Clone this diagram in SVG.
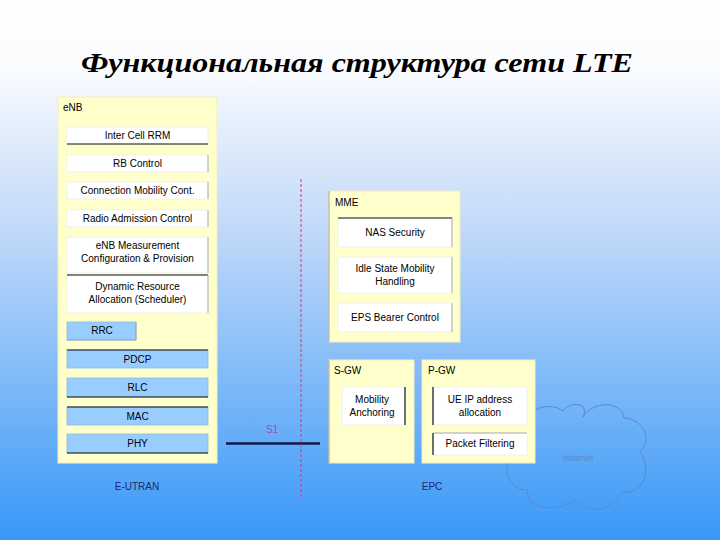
<svg xmlns="http://www.w3.org/2000/svg" width="720" height="540" viewBox="0 0 720 540">
<defs>
<linearGradient id="bg" x1="0" y1="0" x2="0" y2="1">
<stop offset="0" stop-color="#ffffff"/>
<stop offset="0.12" stop-color="#fbfcfe"/>
<stop offset="0.45" stop-color="#bcd6f8"/>
<stop offset="1" stop-color="#3898f8"/>
</linearGradient>
<style>
.t{font-family:"Liberation Sans",Arial,sans-serif;font-size:10px;fill:#000}
.c{text-anchor:middle}
.ybox{fill:#ffffcc;stroke:#f4eec0;stroke-width:1}
.wbox{fill:#ffffff;stroke:#eeeeee;stroke-width:0.8}
.bbox{fill:#99ccff;stroke:#8ab8e8;stroke-width:0.8}
.dk{stroke:#111;stroke-width:1.2;fill:none}
.gr{stroke:#999;stroke-width:0.8;fill:none}
.lbl{font-family:"Liberation Sans",Arial,sans-serif;font-size:10px;fill:#1a2a6a;text-anchor:middle}
</style>
</defs>
<rect x="0" y="0" width="720" height="540" fill="url(#bg)"/>
<text x="357" y="72" text-anchor="middle" font-family="'Liberation Serif','Times New Roman',serif" font-size="28" font-weight="bold" font-style="italic" fill="#000" textLength="552" lengthAdjust="spacingAndGlyphs">Функциональная структура сети LTE</text>

<g id="internet">
<path d="M528,432 C520,410 548,400 563,411 C570,401 590,402 583,417 C592,401 622,400 624,418 C645,420 652,440 640,452 C652,468 645,495 622,492 C614,512 585,514 574,500 C556,514 524,508 528,490 C506,490 500,464 516,456 C502,446 510,428 528,432 Z" fill="none" stroke="#5a8ad0" stroke-width="1"/>
<text x="578" y="461" font-family="'Liberation Sans',Arial,sans-serif" font-size="9" fill="#5a88c8" text-anchor="middle">Internet</text>
</g>

<g id="enb">
<rect class="ybox" x="58" y="97" width="159" height="366"/>
<text class="t" x="63" y="111">eNB</text>
<g id="intercellrrm"><rect class="wbox" x="67" y="127" width="141" height="17"/><line class="dk" x1="67" y1="144" x2="208" y2="144"/><text class="t c" x="137.5" y="139">Inter Cell RRM</text></g>
<g id="rbcontrol"><rect class="wbox" x="67" y="155" width="141" height="17"/><line class="gr" x1="208" y1="155" x2="208" y2="172"/><text class="t c" x="137.5" y="167">RB Control</text></g>
<g id="cmc"><rect class="wbox" x="67" y="182" width="141" height="17"/><line class="gr" x1="208" y1="182" x2="208" y2="199"/><text class="t c" x="137.5" y="194">Connection Mobility Cont.</text></g>
<g id="rac"><rect class="wbox" x="67" y="210" width="141" height="17"/><line class="gr" x1="208" y1="210" x2="208" y2="227"/><text class="t c" x="137.5" y="222">Radio Admission Control</text></g>
<g id="enbmeas"><rect class="wbox" x="67" y="237" width="141" height="36"/><line class="gr" x1="208" y1="237" x2="208" y2="273"/><text class="t c" x="137.5" y="249">eNB Measurement</text><text class="t c" x="137.5" y="262">Configuration &amp; Provision</text></g>
<g id="dra"><rect class="wbox" x="67" y="275" width="141" height="38"/><line class="dk" x1="67" y1="275" x2="208" y2="275"/><line class="gr" x1="208" y1="275" x2="208" y2="313"/><text class="t c" x="137.5" y="290">Dynamic Resource</text><text class="t c" x="137.5" y="303">Allocation (Scheduler)</text></g>
<g id="rrc"><rect class="bbox" x="67" y="322" width="69" height="18"/><line class="gr" x1="136" y1="322" x2="136" y2="340"/><line class="gr" x1="67" y1="340" x2="136" y2="340"/><text class="t c" x="102" y="334">RRC</text></g>
<g id="pdcp"><rect class="bbox" x="67" y="350" width="141" height="18"/><line class="dk" x1="67" y1="350" x2="208" y2="350"/><text class="t c" x="137.5" y="363">PDCP</text></g>
<g id="rlc"><rect class="bbox" x="67" y="378" width="141" height="19"/><line class="dk" x1="67" y1="397" x2="208" y2="397"/><text class="t c" x="137.5" y="391">RLC</text></g>
<g id="mac"><rect class="bbox" x="67" y="407" width="141" height="18"/><line class="dk" x1="67" y1="407" x2="208" y2="407"/><text class="t c" x="137.5" y="420">MAC</text></g>
<g id="phy"><rect class="bbox" x="67" y="434" width="141" height="19"/><line class="dk" x1="67" y1="453" x2="208" y2="453"/><text class="t c" x="137.5" y="447">PHY</text></g>
</g>

<g id="mme">
<rect class="ybox" x="329" y="191" width="131" height="151"/>
<line class="gr" x1="329" y1="191" x2="329" y2="342"/>
<text class="t" x="335" y="206">MME</text>
<g id="nas"><rect class="wbox" x="338" y="218" width="114" height="29"/><line class="dk" x1="338" y1="218" x2="452" y2="218"/><line class="gr" x1="452" y1="218" x2="452" y2="247"/><text class="t c" x="395" y="236">NAS Security</text></g>
<g id="idle"><rect class="wbox" x="338" y="257" width="114" height="36"/><line class="gr" x1="452" y1="257" x2="452" y2="293"/><text class="t c" x="395" y="272">Idle State Mobility</text><text class="t c" x="395" y="285">Handling</text></g>
<g id="eps"><rect class="wbox" x="338" y="303" width="114" height="29"/><line class="gr" x1="452" y1="303" x2="452" y2="332"/><text class="t c" x="395" y="321">EPS Bearer Control</text></g>
</g>

<g id="sgw">
<rect class="ybox" x="329" y="360" width="85" height="103"/>
<line class="gr" x1="329" y1="360" x2="329" y2="463"/>
<text class="t" x="334" y="374">S-GW</text>
<g id="anchor"><rect class="wbox" x="342" y="387" width="63" height="38" stroke="none"/><line class="dk" x1="405" y1="387" x2="405" y2="425"/><text class="t c" x="372" y="403">Mobility</text><text class="t c" x="372" y="416">Anchoring</text></g>
</g>

<g id="pgw">
<rect class="ybox" x="422" y="360" width="113" height="103"/>
<text class="t" x="428" y="374">P-GW</text>
<g id="ueip"><rect class="wbox" x="433" y="387" width="94" height="38" stroke="none"/><line class="dk" x1="433" y1="387" x2="433" y2="425"/><text class="t c" x="480" y="403">UE IP address</text><text class="t c" x="480" y="416">allocation</text></g>
<g id="pf"><rect class="wbox" x="433" y="433" width="94" height="22" stroke="none"/><line class="dk" x1="433" y1="433" x2="433" y2="455"/><line class="gr" x1="433" y1="433" x2="527" y2="433"/><text class="t c" x="480" y="447">Packet Filtering</text></g>
</g>

<g id="connectors">
<line x1="226" y1="443.5" x2="320" y2="443.5" stroke="#0e1a4a" stroke-width="2.5"/>
<line x1="301" y1="179" x2="301" y2="498" stroke="#e0307a" stroke-width="1" stroke-dasharray="3,2"/>
<text x="272" y="433" font-family="'Liberation Sans',Arial,sans-serif" font-size="10" fill="#9a50b0" text-anchor="middle">S1</text>
</g>

<text class="lbl" x="137" y="490">E-UTRAN</text>
<text class="lbl" x="432" y="490">EPC</text>
</svg>
